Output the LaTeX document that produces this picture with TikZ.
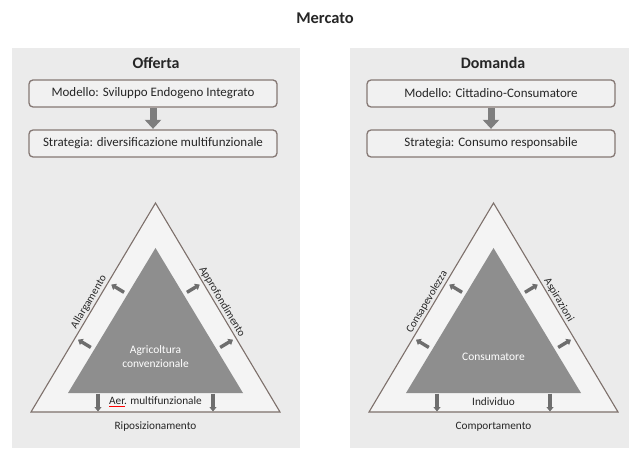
\documentclass[tikz,border=0pt]{standalone}
\usepackage{fontspec}
\setmainfont{Carlito}
\usetikzlibrary{calc,arrows.meta}
\definecolor{panel}{HTML}{EBEBEB}
\definecolor{boxfill}{HTML}{F1F1F1}
\definecolor{boxline}{HTML}{857874}
\definecolor{trifill}{HTML}{F4F4F4}
\definecolor{triline}{HTML}{7D706B}
\definecolor{innerfill}{HTML}{8E8E8E}
\definecolor{arrowgray}{HTML}{6E6E6E}
\definecolor{blockgray}{HTML}{7E7E7E}
\definecolor{txt}{HTML}{262626}
\begin{document}
\begin{tikzpicture}[x=1bp,y=-1bp,
  title/.style={font=\fontsize{16.5}{18}\selectfont\bfseries, text=txt, inner sep=0},
  head/.style={font=\fontsize{16}{18}\selectfont\bfseries, text=txt, inner sep=0},
  box/.style={draw=boxline, line width=1.3bp, rounded corners=4bp, fill=boxfill,
    minimum width=248bp, minimum height=27bp, inner sep=0, text=txt,
    font=\fontsize{13}{15}\selectfont},
  blockarrow/.style={draw=blockgray, line width=7bp, shorten >=0.5bp, shorten <=0.5bp,
    -{Triangle[width=16bp,length=9bp]}},
  outertri/.style={draw=triline, line width=1.1bp, fill=trifill, line join=miter},
  innertri/.style={fill=innerfill},
  edgelab/.style={font=\fontsize{11}{12}\selectfont, text=txt, inner sep=1.5bp},
  baselab/.style={font=\fontsize{11.3}{13}\selectfont, text=txt, inner sep=0},
  innerlab/.style={font=\fontsize{11.5}{14}\selectfont, text=white, inner sep=0, align=center},
  sarrow/.style={draw=arrowgray, line width=3.4bp, -{Triangle[width=7bp,length=4.5bp]}},
]
\useasboundingbox[fill=white] (0,0) rectangle (629,452);
\fill[panel] (12,48) rectangle (300,448);
\fill[panel] (350,48) rectangle (629,448);

\node[title] (mercato) at (325,18) {Mercato};

% ---------- Offerta ----------
\node[head] (off) at (156,63) {Offerta};
\node[box] (m1) at (153,93.5) {Modello: Sviluppo Endogeno Integrato};
\node[box] (s1) at (153,143.5) {Strategia: diversificazione multifunzionale};
\draw[blockarrow] (m1) -- (s1);

\coordinate (oL1) at (31,412);
\coordinate (oA1) at (155.5,203);
\coordinate (oR1) at (280,412);
\coordinate (iL1) at (68,393);
\coordinate (iA1) at (155.5,248);
\coordinate (iR1) at (243,393);
\filldraw[outertri] (oL1) -- (oA1) -- (oR1) -- cycle;
\fill[innertri] (iL1) -- (iA1) -- (iR1) -- cycle;

\path (oL1) -- (oA1) node[edgelab, pos=0.51, sloped, above] (allarg) {Allargamento};
\path (oA1) -- (oR1) node[edgelab, pos=0.49, sloped, above] (approf) {Approfondimento};

\node[innerlab] (agri) at (155.5,357) {Agricoltura\\convenzionale};
\node[baselab] (aer) at (155.5,402) {\makebox[0pt][l]{\raisebox{-2.8bp}{\textcolor{red}{\rule{16bp}{1bp}}}}Aer. multifunzionale};
\node[baselab] (ripos) at (155.5,427) {Riposizionamento};

\foreach \t/\n in {0.30/a, 0.68/b}{
  \coordinate (fL1\n) at ($(iL1)!\t!(iA1)$);
  \coordinate (sL1\n) at ($(fL1\n)!4bp!90:(iA1)$);
  \coordinate (eL1\n) at ($(fL1\n)!19bp!90:(iA1)$);
  \draw[sarrow] (sL1\n) -- (eL1\n);
  \coordinate (fR1\n) at ($(iR1)!\t!(iA1)$);
  \coordinate (sR1\n) at ($(fR1\n)!4bp!-90:(iA1)$);
  \coordinate (eR1\n) at ($(fR1\n)!19bp!-90:(iA1)$);
  \draw[sarrow] (sR1\n) -- (eR1\n);
}
\coordinate (d1s) at (98,393.5);
\coordinate (d1e) at (98,411.5);
\coordinate (d2s) at (213,393.5);
\coordinate (d2e) at (213,411.5);
\draw[sarrow] (d1s) -- (d1e);
\draw[sarrow] (d2s) -- (d2e);

% ---------- Domanda ----------
\node[head] (dom) at (493,63) {Domanda};
\node[box] (m2) at (491,93.5) {Modello: Cittadino-Consumatore};
\node[box] (s2) at (491,143.5) {Strategia: Consumo responsabile};
\draw[blockarrow] (m2) -- (s2);

\coordinate (oL2) at (369,412);
\coordinate (oA2) at (493.5,203);
\coordinate (oR2) at (618,412);
\coordinate (iL2) at (406,393);
\coordinate (iA2) at (493.5,248);
\coordinate (iR2) at (581,393);
\filldraw[outertri] (oL2) -- (oA2) -- (oR2) -- cycle;
\fill[innertri] (iL2) -- (iA2) -- (iR2) -- cycle;

\path (oL2) -- (oA2) node[edgelab, pos=0.51, sloped, above] (consap) {Consapevolezza};
\path (oA2) -- (oR2) node[edgelab, pos=0.48, sloped, above] (aspir) {Aspirazioni};

\node[innerlab] (cons) at (493.5,357) {Consumatore};
\node[baselab] (indiv) at (493.5,402) {Individuo};
\node[baselab] (comp) at (493.5,427) {Comportamento};

\foreach \t/\n in {0.30/a, 0.68/b}{
  \coordinate (fL2\n) at ($(iL2)!\t!(iA2)$);
  \coordinate (sL2\n) at ($(fL2\n)!4bp!90:(iA2)$);
  \coordinate (eL2\n) at ($(fL2\n)!19bp!90:(iA2)$);
  \draw[sarrow] (sL2\n) -- (eL2\n);
  \coordinate (fR2\n) at ($(iR2)!\t!(iA2)$);
  \coordinate (sR2\n) at ($(fR2\n)!4bp!-90:(iA2)$);
  \coordinate (eR2\n) at ($(fR2\n)!19bp!-90:(iA2)$);
  \draw[sarrow] (sR2\n) -- (eR2\n);
}
\coordinate (d3s) at (437,393.5);
\coordinate (d3e) at (437,411.5);
\coordinate (d4s) at (550,393.5);
\coordinate (d4e) at (550,411.5);
\draw[sarrow] (d3s) -- (d3e);
\draw[sarrow] (d4s) -- (d4e);
\end{tikzpicture}
\end{document}
